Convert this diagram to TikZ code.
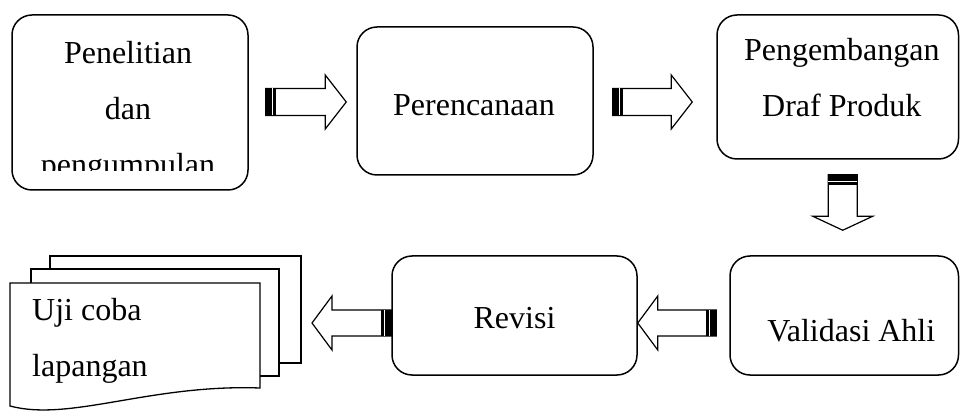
\documentclass[tikz,border=0pt]{standalone}
\usepackage{fontspec}
\setmainfont{Liberation Serif}
\usepackage{tikz}
\usetikzlibrary{calc,positioning}

\tikzset{
    kotak/.style={
        draw,
        line width=1.5pt,
        rounded corners=20pt,
        inner sep=0pt
    },
    teks/.style={
        font=\fontsize{32}{56}\selectfont,
        inner sep=0pt
    },
    panah/.style={
        draw,
        fill=white,
        line width=1.2pt,
        line join=miter
    },
    dok/.style={
        draw,
        fill=white,
        line width=1.3pt
    }
}

% panah blok: #1 ekor, #2 ujung, #3 setengah lebar batang,
% #4 setengah lebar kepala, #5 panjang kepala
\newcommand{\blokpanah}[5]{%
    \coordinate (kp) at ($(#2)!#5!(#1)$);
    \coordinate (t1) at ($(#1)!#3!90:(#2)$);
    \coordinate (t2) at ($(#1)!#3!-90:(#2)$);
    \coordinate (s1) at ($(kp)!#3!90:(#2)$);
    \coordinate (s2) at ($(kp)!#3!-90:(#2)$);
    \coordinate (k1) at ($(kp)!#4!90:(#2)$);
    \coordinate (k2) at ($(kp)!#4!-90:(#2)$);
    \draw[panah] (t1) -- (s1) -- (k1) -- (#2) -- (k2) -- (s2) -- (t2) -- cycle;
    \fill (t1) -- ($(t1)!10pt!(s1)$) -- ($(t2)!10pt!(s2)$) -- (t2) -- cycle;
    \draw[white, line width=1.2pt] ($(t1)!6.5pt!(s1)$) -- ($(t2)!6.5pt!(s2)$);
}

\begin{document}
\begin{tikzpicture}[x=1pt, y=1pt]
                \useasboundingbox (0,0) rectangle (960,412);

                % baris atas
                \node[
                    kotak,
                    minimum width=236pt,
                    minimum height=175pt
                    ] (penelitian) at (130,309.5) {};

                \node[
                    kotak,
                    minimum width=236pt,
                    minimum height=148pt
                    ] (perencanaan) at (475,311) {};

                \node[
                    kotak,
                    minimum width=241.5pt,
                    minimum height=144pt
                    ] (pengembangan) at (837.75,325) {};

                % baris bawah
                \node[
                    kotak,
                    minimum width=245pt,
                    minimum height=119pt
                    ] (revisi) at (514.5,96.5) {};

                \node[
                    kotak,
                    minimum width=228.5pt,
                    minimum height=119pt
                    ] (validasi) at (844.25,96.5) {};

                % teks
                \begin{scope}
                    \clip (penelitian.north west) rectangle ($(penelitian.south east)+(0,20)$);
                    \node[teks, align=center, anchor=base] (tpenelitian)
                        at ($(penelitian.center)+(-2,-73.5)$) {Penelitian\\dan\\pengumpulan};
                \end{scope}

                \node[teks, anchor=base] (tperencanaan)
                    at ($(perencanaan.center)+(-1,-15)$) {Perencanaan};

                \node[teks, align=center, anchor=base] (tpengembangan)
                    at ($(pengembangan.center)+(4,-30)$) {Pengembangan\\Draf Produk};

                \node[teks, anchor=base] (trevisi)
                    at ($(revisi.center)+(0,-13.5)$) {Revisi};

                \node[teks, anchor=base] (tvalidasi)
                    at ($(validasi.center)+(7,-26.5)$) {Validasi Ahli};

                % tumpukan dokumen
                \draw[dok] (50,156) rectangle (301,49);
                \draw[dok] (31,143) rectangle (279,36);
                \draw[dok] (260,129) -- (10,129) -- (10,6)
                    .. controls (70,-10) and (150,28) .. (260,24) -- cycle;
                \coordinate (dok) at (301,89);

                \node[teks, align=left, anchor=base west] (tuji)
                    at (32,35) {Uji coba\\lapangan};

                % panah
                \coordinate (a1s) at ($(penelitian.east)+(17,0.5)$);
                \coordinate (a1e) at ($(a1s -| perencanaan.west)+(-10,0)$);
                \coordinate (a2s) at ($(a1s -| perencanaan.east)+(19,0)$);
                \coordinate (a2e) at ($(a2s -| pengembangan.west)+(-24,0)$);
                \coordinate (a3s) at ($(pengembangan.south)+(5,-15)$);
                \coordinate (a3e) at ($(a3s |- validasi.north)+(0,25)$);
                \coordinate (a4s) at ($(validasi.west)+(-13,-7.5)$);
                \coordinate (a4e) at (a4s -| revisi.east);
                \coordinate (a5s) at (a4s -| revisi.west);
                \coordinate (a5e) at ($(a5s -| dok)+(11,0)$);

                \blokpanah{a1s}{a1e}{13.5pt}{27pt}{21pt}
                \blokpanah{a2s}{a2e}{13.5pt}{27pt}{21pt}
                \blokpanah{a3s}{a3e}{14.5pt}{30pt}{14pt}
                \blokpanah{a4s}{a4e}{13pt}{27pt}{20pt}
                \blokpanah{a5s}{a5e}{13pt}{27pt}{20pt}

            \end{tikzpicture}
\end{document}
